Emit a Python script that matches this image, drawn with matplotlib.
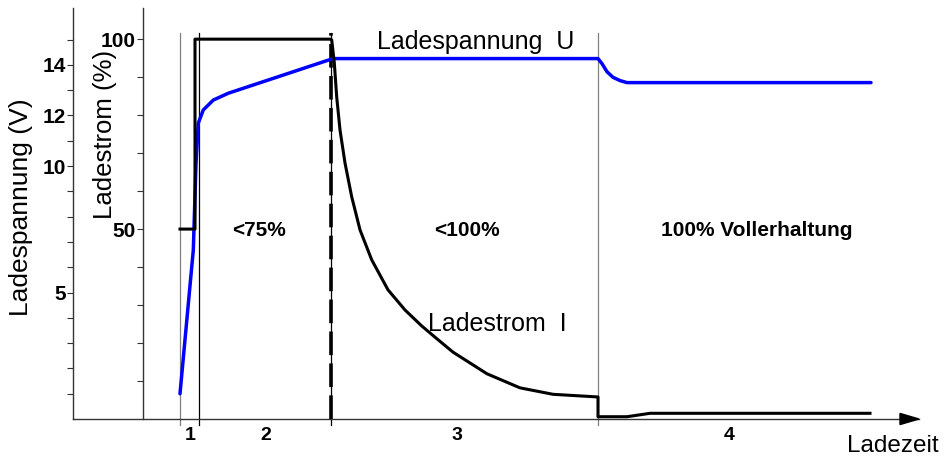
import matplotlib
matplotlib.use("Agg")
import matplotlib.pyplot as plt
from matplotlib.ticker import FixedLocator, FixedFormatter

plt.rcParams['font.family'] = ['Liberation Sans', 'DejaVu Sans']
plt.rcParams['lines.scale_dashes'] = False

# ---------------- data ----------------
# Ladestrom I (%) over Ladezeit (arbitrary time units)
t_current = [10.7, 12.2, 12.2, 25.7, 25.87, 26.13, 26.37, 26.7, 27.2, 27.87, 28.7,
             29.87, 31.5, 33.2, 34.87, 36.4, 38.0, 41.4, 44.7, 48.0, 52.5, 52.5,
             55.4, 57.7, 79.7]
current = [50, 50, 100, 100, 99.8, 93.8, 84.8, 76.1, 67.4, 58.5, 49.8,
           41.9, 34.0, 28.7, 24.5, 21.1, 17.6, 11.9, 8.2, 6.5, 5.8, 0.6,
           0.6, 1.5, 1.5]

# Ladespannung U (V)
t_voltage = [10.7, 12.03, 12.3, 12.53, 13.03, 14.03, 15.53, 26.0, 52.5, 52.9,
             53.4, 54.0, 54.7, 55.4, 79.8]
voltage = [1.0, 6.68, 10.1, 11.7, 12.22, 12.61, 12.88, 14.25, 14.25, 14.05,
           13.73, 13.51, 13.38, 13.30, 13.30]

# phase boundaries (time units)
phase_bounds = [10.7, 12.6, 25.8, 52.5]
phase_colors = ['#808080', '#000000', '#000000', '#808080']
phase_names = ['1', '2', '3', '4']
phase_label_t = [11.75, 19.3, 38.35, 65.6]
phase_texts = ['<75%', '<100%', '100% Vollerhaltung']

v_ticks = list(range(1, 16))
v_tick_labels = ['5' if v == 5 else '10' if v == 10 else '12' if v == 12
                 else '14' if v == 14 else '' for v in v_ticks]
i_ticks = list(range(10, 101, 10))
i_tick_labels = ['50' if i == 50 else '100' if i == 100 else '' for i in i_ticks]

V_MAX = 16.25
I_MAX = 108.2
T_MAX = 84.6
I_AXIS_T = 7.0

# ---------------- figure ----------------
W, H = 952, 457
fig = plt.figure(figsize=(W / 100, H / 100), dpi=100)
ax = fig.add_axes([73 / W, 38 / H, (919 - 73) / W, 411 / H])
ax.set_xlim(0, T_MAX)
ax.set_ylim(0, V_MAX)
ax.patch.set_alpha(0)

spine_col = '#333333'
for s in ['top', 'right']:
    ax.spines[s].set_visible(False)
ax.spines['left'].set_color(spine_col)
ax.spines['bottom'].set_color(spine_col)
ax.spines['left'].set_linewidth(1.0)
ax.spines['bottom'].set_linewidth(1.0)
ax.set_xticks([])
ax.yaxis.set_major_locator(FixedLocator(v_ticks))
ax.yaxis.set_major_formatter(FixedFormatter(v_tick_labels))
ax.tick_params(axis='y', direction='out', length=4.5, width=0.8, color=spine_col,
               pad=0.5, labelsize=15)
for lab in ax.get_yticklabels():
    lab.set_fontweight('bold')

# arrow head on x-axis
ax.fill([82.7, 84.6, 82.7], [0.22, 0.0, -0.22], color='black', clip_on=False, zorder=5)

# second axis (current %)
ax2 = ax.twinx()
ax2.set_ylim(0, I_MAX)
for s in ['top', 'right', 'bottom']:
    ax2.spines[s].set_visible(False)
ax2.spines['left'].set_visible(True)
ax2.spines['left'].set_position(('data', I_AXIS_T))
ax2.spines['left'].set_color(spine_col)
ax2.spines['left'].set_linewidth(1.0)
ax2.yaxis.set_ticks_position('left')
ax2.yaxis.set_major_locator(FixedLocator(i_ticks))
ax2.yaxis.set_major_formatter(FixedFormatter(i_tick_labels))
ax2.tick_params(axis='y', direction='out', length=4.5, width=0.8, color=spine_col,
                pad=0.5, labelsize=15)
for lab in ax2.get_yticklabels():
    lab.set_fontweight('bold')

# phase boundary lines
for tb, c in zip(phase_bounds, phase_colors):
    ax.plot([tb, tb], [-0.24, 15.26], color=c, lw=0.9, clip_on=False, zorder=2)
ax.plot([phase_bounds[2]] * 2, [0, 15.26], color='black', lw=2.6,
        dashes=(17, 6), clip_on=False, zorder=3)

# curves
ax.plot(t_voltage, voltage, color='#0000ff', lw=2.5, zorder=4,
        solid_joinstyle='round', solid_capstyle='round')
ax2.plot(t_current, current, color='black', lw=2.2, zorder=4,
         solid_joinstyle='round')


def ftext(xp, yp, s, **kw):
    fig.text(xp / W, 1 - yp / H, s, **kw)


ftext(21.5, 207.5, 'Ladespannung (V)', rotation=90, ha='center', va='center', fontsize=19)
ftext(105, 134, 'Ladestrom (%)', rotation=90, ha='center', va='center', fontsize=18.5)
ftext(476, 48.5, 'Ladespannung  U', ha='center', va='baseline', fontsize=18)
ftext(497, 330.7, 'Ladestrom  I', ha='center', va='baseline', fontsize=18)
ftext(893, 451.7, 'Ladezeit', ha='center', va='baseline', fontsize=17.5)

for xp, s in zip([259, 467, 757], phase_texts):
    ftext(xp, 236.5, s, ha='center', va='baseline', fontsize=15, fontweight='bold')

for tl, name in zip(phase_label_t, phase_names):
    xp = 73 + tl * 10
    ftext(xp, 439.5, name, ha='center', va='baseline', fontsize=14, fontweight='bold')

fig.savefig('out.png', dpi=100)
